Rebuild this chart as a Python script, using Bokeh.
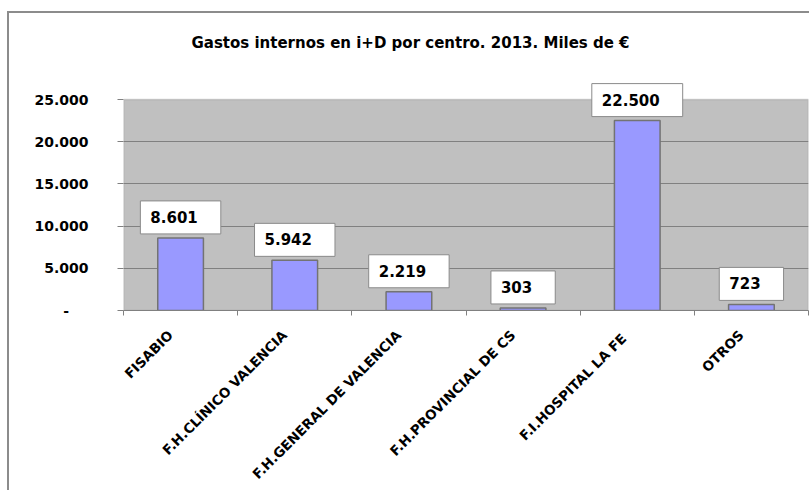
import math
from bokeh.plotting import figure
from bokeh.models import Range1d, FixedTicker, Label, BoxAnnotation
from bokeh.embed import file_html
from bokeh.resources import INLINE

# ---- data ----
categories = ["FISABIO", "F.H.CLÍNICO VALENCIA", "F.H.GENERAL DE VALENCIA",
              "F.H.PROVINCIAL DE CS", "F.I.HOSPITAL  LA FE", "OTROS"]
values = [8601, 5942, 2219, 303, 22500, 723]
value_labels = ["8.601", "5.942", "2.219", "303", "22.500", "723"]
y_ticks = [0, 5000, 10000, 15000, 20000, 25000]
y_tick_labels = ["-\u00a0\u00a0\u00a0\u00a0", "5.000", "10.000", "15.000", "20.000", "25.000"]
y_max = 25000
title_text = "Gastos internos en i+D por centro. 2013. Miles de €"

n = len(categories)
xs = [i + 0.5 for i in range(n)]

# layout (pixels)
FRAME_H = 297          # frame covers the area above the plot too
PLOT_H = 211           # height of the grey plot area
y_end = y_max * FRAME_H / PLOT_H

p = figure(width=800, height=476, frame_width=685, frame_height=FRAME_H,
           min_border_left=114, min_border_right=1, min_border_top=0, min_border_bottom=179,
           x_range=Range1d(0, n), y_range=Range1d(0, y_end), title=None,
           output_backend="svg", toolbar_location=None, tools="",
           styles={"margin-left": "7px", "margin-top": "11px",
                   "border-left": "2px solid #8c8c8c", "border-top": "2px solid #8c8c8c"})

p.background_fill_color = "white"
p.border_fill_color = "white"
p.outline_line_color = None

# grey plot area
p.add_layout(BoxAnnotation(left=0, right=n, bottom=0, top=y_max,
                           fill_color="#C0C0C0", fill_alpha=1,
                           line_color="#808080", line_width=1.5, level="image"))

# title
p.add_layout(Label(x=287, y=FRAME_H - 29, x_units="screen", y_units="screen",
                   text=title_text, text_align="center", text_baseline="alphabetic",
                   text_font="DejaVu Sans", text_font_style="bold",
                   text_font_size="15px", text_color="black"))

# bars
p.vbar(x=xs, top=values, width=0.4, bottom=0,
       fill_color="#9999FF", line_color="#737373", line_width=1.5)

# value labels
for x, v, t in zip(xs, values, value_labels):
    p.add_layout(Label(x=x, y=v, text=t, y_offset=4,
                       text_align="center", text_baseline="bottom",
                       anchor="bottom_center",
                       text_font="DejaVu Sans", text_font_style="bold",
                       text_font_size="15px", text_color="black",
                       background_fill_color="white",
                       border_line_color="#8a8a8a", border_line_width=1,
                       padding=(10, 23, 10, 11)))

# y axis
p.yaxis.ticker = FixedTicker(ticks=y_ticks)
p.yaxis.major_label_overrides = {t: l for t, l in zip(y_ticks, y_tick_labels)}
p.yaxis.major_label_text_font = "DejaVu Sans"
p.yaxis.major_label_text_font_style = "bold"
p.yaxis.major_label_text_font_size = "14px"
p.yaxis.major_label_text_color = "black"
p.yaxis.major_label_standoff = 29
p.yaxis.major_tick_out = 6
p.yaxis.major_tick_in = 0
p.yaxis.minor_tick_out = 0
p.yaxis.minor_tick_in = 0
p.yaxis.axis_line_color = None
p.yaxis.major_tick_line_color = "#808080"

# x axis (labels anchored slightly left of the category centre, as in the original)
label_pos = [round(x - 0.09, 3) for x in xs]
p.xaxis.ticker = FixedTicker(ticks=label_pos, minor_ticks=list(range(n + 1)))
p.xaxis.major_label_overrides = {x: c for x, c in zip(label_pos, categories)}
p.xaxis.major_label_orientation = math.pi / 4
p.xaxis.major_label_text_font = "DejaVu Sans"
p.xaxis.major_label_text_font_style = "bold"
p.xaxis.major_label_text_font_size = "13.5px"
p.xaxis.major_label_text_color = "black"
p.xaxis.major_label_standoff = 17
p.xaxis.major_tick_out = 0
p.xaxis.major_tick_in = 0
p.xaxis.minor_tick_out = 5
p.xaxis.minor_tick_in = 0
p.xaxis.axis_line_color = "#808080"
p.xaxis.minor_tick_line_color = "#808080"

# grid
p.xgrid.grid_line_color = None
p.ygrid.ticker = FixedTicker(ticks=y_ticks[1:-1])
p.ygrid.grid_line_color = "#808080"
p.ygrid.grid_line_width = 1

open("out.html", "w").write(file_html(p, INLINE))
